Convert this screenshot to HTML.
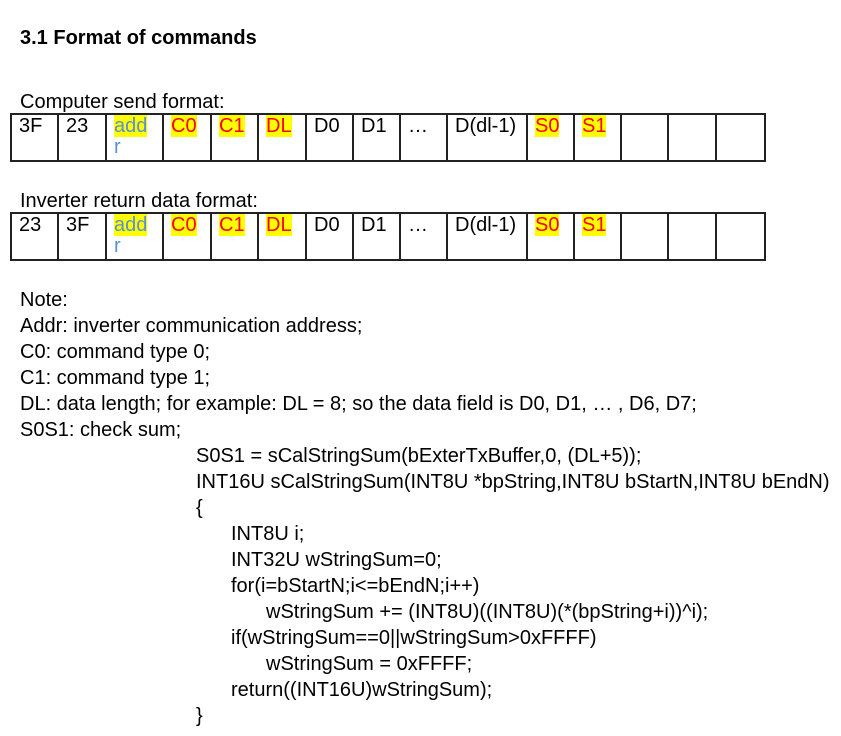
<!DOCTYPE html>
<html><head><meta charset="utf-8"><style>
body{margin:0;width:841px;height:736px;background:#fff;font-family:"Liberation Sans",Arial,sans-serif;color:#000;position:relative;overflow:hidden}
.t{position:absolute;font-size:20px;white-space:nowrap;line-height:22px}
.c{position:absolute;border:2px solid #222;box-sizing:border-box;height:49px;top:0;font-size:20px;line-height:21px;padding:1px 0 0 7px;margin-left:-1px;overflow:hidden}
.y{background:#ff0;color:#f00}
.b{color:#5b8fd6}
.by{background:#ff0}
.tbl{position:absolute;left:0;width:841px;height:49px}
</style></head><body>
<div class="t" style="left:20px;top:27px;font-weight:bold">3.1 Format of commands</div>
<div class="t" style="left:20px;top:91px">Computer send format:</div>
<div class="tbl" style="top:113px" id="t1"></div>
<div class="t" style="left:20px;top:190px">Inverter return data format:</div>
<div class="tbl" style="top:212px" id="t2"></div>
<div class="t" style="left:20px;top:289px">Note:</div>
<div class="t" style="left:20px;top:315px">Addr: inverter communication address;</div>
<div class="t" style="left:20px;top:341px">C0: command type 0;</div>
<div class="t" style="left:20px;top:367px">C1: command type 1;</div>
<div class="t" style="left:20px;top:393px">DL: data length; for example: DL = 8; so the data field is D0, D1, … , D6, D7;</div>
<div class="t" style="left:20px;top:419px">S0S1: check sum;</div>
<div class="t" style="left:196px;top:445px">S0S1 = sCalStringSum(bExterTxBuffer,0, (DL+5));</div>
<div class="t" style="left:196px;top:471px">INT16U sCalStringSum(INT8U *bpString,INT8U bStartN,INT8U bEndN)</div>
<div class="t" style="left:196px;top:497px">{</div>
<div class="t" style="left:231px;top:523px">INT8U i;</div>
<div class="t" style="left:231px;top:549px">INT32U wStringSum=0;</div>
<div class="t" style="left:231px;top:575px">for(i=bStartN;i&lt;=bEndN;i++)</div>
<div class="t" style="left:266px;top:601px">wStringSum += (INT8U)((INT8U)(*(bpString+i))^i);</div>
<div class="t" style="left:231px;top:627px">if(wStringSum==0||wStringSum&gt;0xFFFF)</div>
<div class="t" style="left:266px;top:653px">wStringSum = 0xFFFF;</div>
<div class="t" style="left:231px;top:679px">return((INT16U)wStringSum);</div>
<div class="t" style="left:196px;top:705px">}</div>
<script>
var xs=[11,58,106,163,211,258,306,353,400,447,527,574,621,668,716,765];
function build(id,a,b){
var labels=[a,b,'<span class="by b">add</span><br><span class="b">r</span>','<span class="y">C0</span>','<span class="y">C1</span>','<span class="y">DL</span>','D0','D1','…','D(dl-1)','<span class="y">S0</span>','<span class="y">S1</span>','','',''];
var h='';
for(var i=0;i<15;i++){h+='<div class="c" style="left:'+xs[i]+'px;width:'+(xs[i+1]-xs[i]+2)+'px">'+labels[i]+'</div>';}
document.getElementById(id).innerHTML=h;}
build('t1','3F','23');build('t2','23','3F');
</script>
</body></html>
